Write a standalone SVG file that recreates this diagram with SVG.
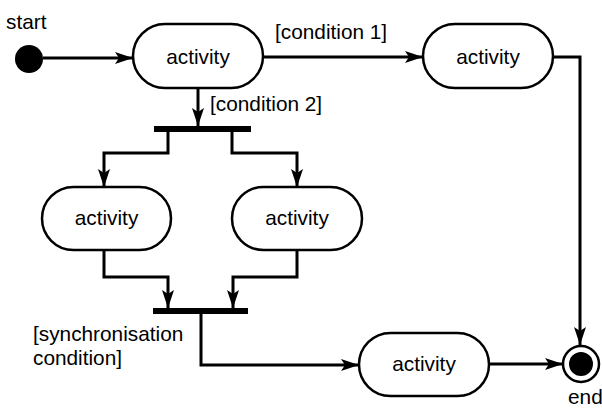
<svg xmlns="http://www.w3.org/2000/svg" width="602" height="410" viewBox="0 0 602 410">
  <style>
    text { font-family: "Liberation Sans", Arial, sans-serif; font-size: 20.8px; fill: #000; }
    .act rect { fill: #fff; stroke: #000; stroke-width: 2.5; }
    .act text { text-anchor: middle; }
    .flow { fill: none; stroke: #000; stroke-width: 3; marker-end: url(#arrow); }
    .bar { fill: #000; }
  </style>
  <defs>
    <marker id="arrow" viewBox="0 0 18 12" refX="18" refY="6" markerWidth="18" markerHeight="12" markerUnits="userSpaceOnUse" orient="auto">
      <path d="M0,0 L18,6 L0,12 L4,6 z" fill="#000"/>
    </marker>
  </defs>
  <rect width="602" height="410" fill="#fff"/>

  <!-- connectors -->
  <g id="connectors">
    <line class="flow" x1="43" y1="58" x2="133" y2="58"/>
    <line class="flow" x1="263" y1="57" x2="423" y2="57"/>
    <polyline class="flow" points="553,57 580,57 580,345"/>
    <line class="flow" x1="198" y1="88" x2="198" y2="126"/>
    <polyline class="flow" points="168,132 168,153 104,153 104,187"/>
    <polyline class="flow" points="232,132 232,153 297,153 297,187"/>
    <polyline class="flow" points="104,250 104,277 168,277 168,308"/>
    <polyline class="flow" points="297,250 297,277 233,277 233,308"/>
    <polyline class="flow" points="201,314 201,365 359,365"/>
    <line class="flow" x1="489" y1="364" x2="563" y2="364"/>
    <text x="275" y="39">[condition 1]</text>
    <text x="210" y="111">[condition 2]</text>
    <text x="33" y="341">[synchronisation</text>
    <text x="33" y="365">condition]</text>
  </g>

  <!-- initial state -->
  <g id="start">
    <circle cx="29" cy="59" r="14" fill="#000"/>
    <text x="6" y="29">start</text>
  </g>

  <!-- activities -->
  <g id="activity1" class="act">
    <rect x="133" y="24" width="130" height="64" rx="32" ry="32"/>
    <text x="198" y="64">activity</text>
  </g>
  <g id="activity2" class="act">
    <rect x="423" y="24" width="130" height="64" rx="32" ry="32"/>
    <text x="488" y="64">activity</text>
  </g>
  <g id="activity3" class="act">
    <rect x="42" y="187" width="129" height="63" rx="31.5" ry="31.5"/>
    <text x="106.5" y="225">activity</text>
  </g>
  <g id="activity4" class="act">
    <rect x="232" y="187" width="130" height="63" rx="31.5" ry="31.5"/>
    <text x="297" y="225">activity</text>
  </g>
  <g id="activity5" class="act">
    <rect x="359" y="333" width="130" height="63" rx="31.5" ry="31.5"/>
    <text x="424" y="371">activity</text>
  </g>

  <!-- fork and join bars -->
  <g id="fork">
    <rect class="bar" x="154" y="126" width="97" height="6"/>
  </g>
  <g id="join">
    <rect class="bar" x="153" y="308" width="95" height="6"/>
  </g>

  <!-- final state -->
  <g id="end">
    <circle cx="581" cy="364" r="18" fill="#fff" stroke="#000" stroke-width="2.5"/>
    <circle cx="581" cy="364" r="12" fill="#000"/>
    <text x="568" y="404">end</text>
  </g>
</svg>
